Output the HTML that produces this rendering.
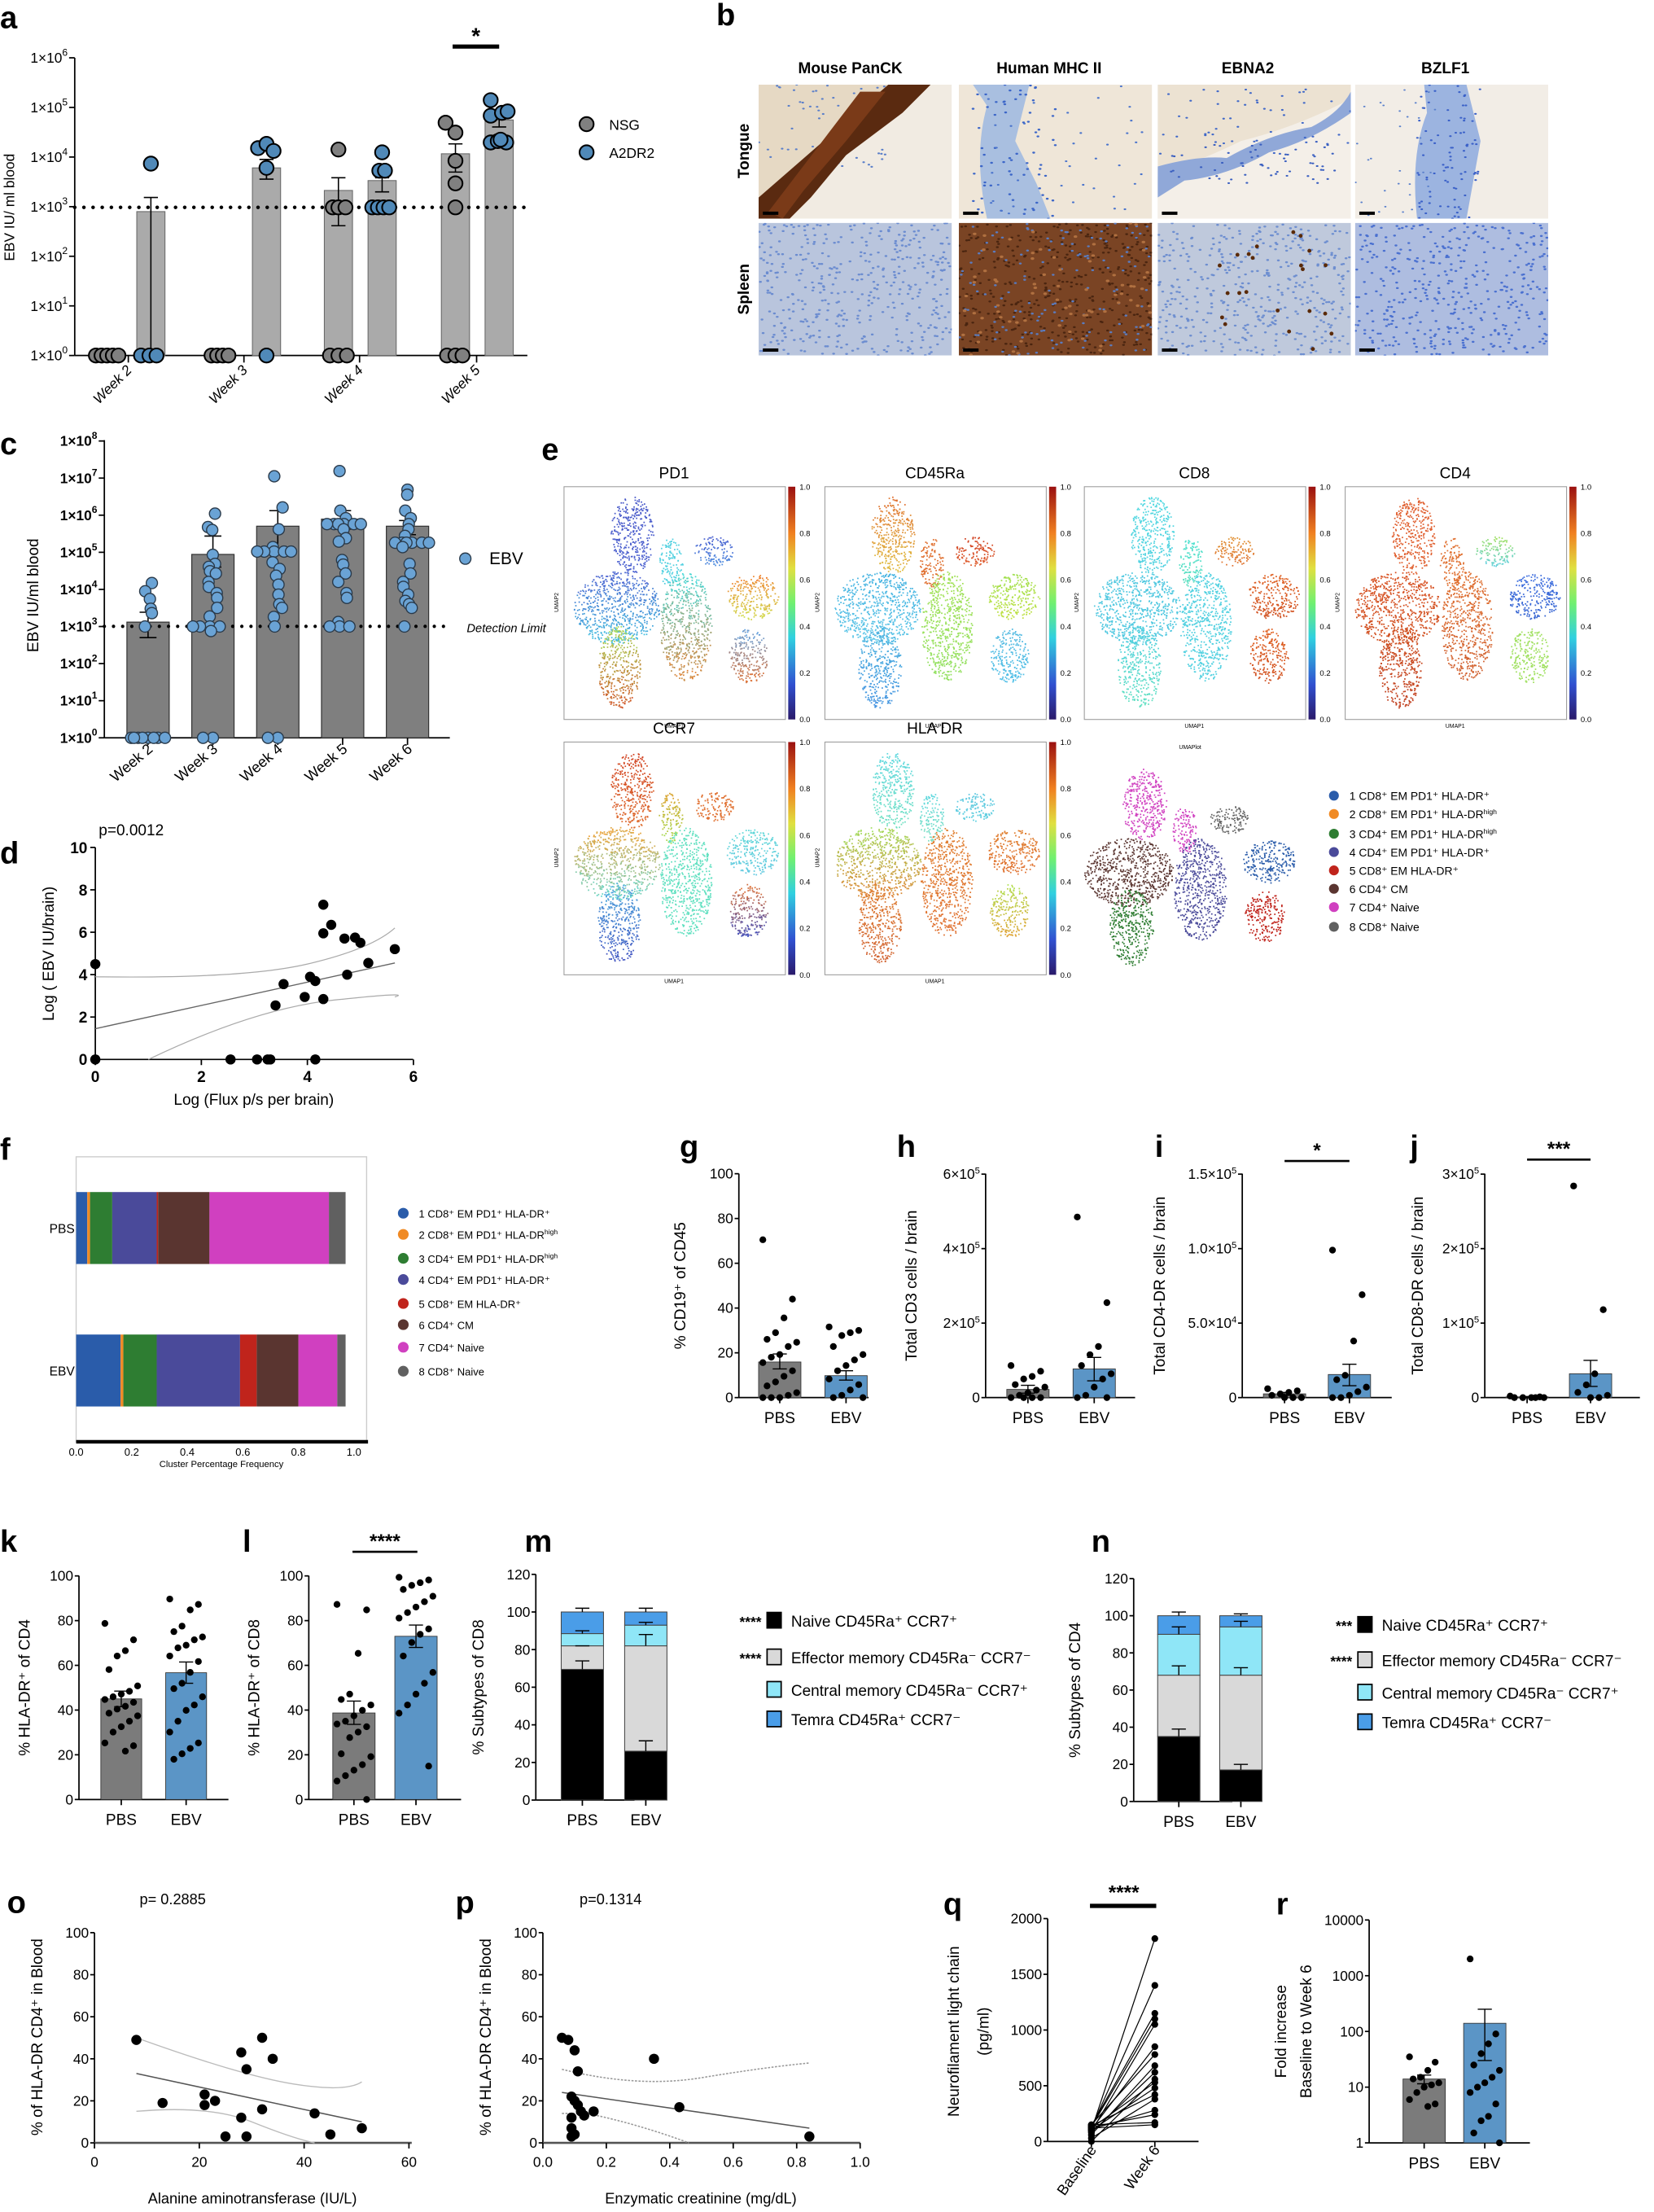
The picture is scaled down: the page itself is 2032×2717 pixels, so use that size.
<!DOCTYPE html>
<html><head><meta charset="utf-8">
<style>
html,body{margin:0;padding:0;background:#fff;}
svg{display:block;font-family:"Liberation Sans",Arial,sans-serif;}
</style></head>
<body>
<svg id="fig" xmlns="http://www.w3.org/2000/svg" width="2032" height="2717" viewBox="0 0 1173 1568" preserveAspectRatio="none">
<defs>
<linearGradient id="jet" x1="0" y1="1" x2="0" y2="0">
<stop offset="0" stop-color="#2a1a6a"/><stop offset="0.15" stop-color="#3050d0"/><stop offset="0.35" stop-color="#30d0e0"/><stop offset="0.5" stop-color="#70f070"/><stop offset="0.65" stop-color="#e0e040"/><stop offset="0.8" stop-color="#f08020"/><stop offset="1" stop-color="#9a1010"/>
</linearGradient>
</defs>
<g id="root"></g>
</svg>
<script>
(function(){
const S=[];const add=s=>S.push(s);
let seed=12345;function rnd(){seed|=0;seed=seed+0x6D2B79F5|0;let t=Math.imul(seed^seed>>>15,1|seed);t=t+Math.imul(t^t>>>7,61|t)^t;return((t^t>>>14)>>>0)/4294967296;}
function C(x,y,r,f,st,sw){add(`<circle cx="${x.toFixed(1)}" cy="${y.toFixed(1)}" r="${r}" fill="${f}" stroke="${st||'none'}" stroke-width="${sw||0}"/>`);}
function L(x1,y1,x2,y2,st,sw,ex){add(`<line x1="${x1}" y1="${y1}" x2="${x2}" y2="${y2}" stroke="${st||'#000'}" stroke-width="${sw||1}" ${ex||''}/>`);}
function R(x,y,w,h,f,st,sw){add(`<rect x="${x}" y="${y}" width="${w}" height="${h}" fill="${f}" stroke="${st||'none'}" stroke-width="${sw||0}"/>`);}
function T(x,y,s,fs,an,ex){add(`<text x="${x}" y="${y}" font-size="${fs}" text-anchor="${an||'start'}" ${ex||''}>${s}</text>`);}
function TR(x,y,s,fs,rot,an,ex){add(`<text x="${x}" y="${y}" font-size="${fs}" text-anchor="${an||'middle'}" transform="rotate(${rot} ${x} ${y})" ${ex||''}>${s}</text>`);}
function P(d,st,sw,f,ex){add(`<path d="${d}" stroke="${st||'none'}" stroke-width="${sw||0}" fill="${f||'none'}" ${ex||''}/>`);}
function err(x,y1,y2,w){L(x,y1,x,y2,'#000',0.9);L(x-w,y1,x+w,y1,'#000',0.9);}
const sup=(b,e)=>`${b}<tspan dy="-4" font-size="65%">${e}</tspan>`;
const BL='#5b95c6', GR='#7b7b7b';
// ===== Panel a =====
T(0,20,'a',22,'start','font-weight="bold"');
const yA=v=>252-v*35.17;
L(53,41,53,252,'#000',1);L(53,252,374,252,'#000',1);
for(let i=0;i<=6;i++){const y=yA(i);L(49,y,53,y,'#000',1);T(48,y+3.5,'1×10<tspan dy="-5" font-size="7">'+i+'</tspan>',10,'end');}
[[91,2],[173,3],[255,4],[338,5]].forEach(([x,w])=>{L(x,252,x,257,'#000',1);TR(x+3,263,'Week '+w,10,-45,'end','font-style="italic"');});
TR(10,147,'EBV IU/ ml blood',10,-90);
[[107,150],[189,119],[240,135],[271,128],[323,109],[354,85]].forEach(([x,t])=>R(x-10,t,20,252-t,'#aaaaaa','#666',0.6));
err(107,140,252,5);L(184,113,194,113);L(189,113,189,127);L(184,127,194,127);
[[240,126,160],[271,126,136],[323,102,122],[354,84,90]].forEach(([x,a,b])=>{L(x,a,x,b,'#000',0.9);L(x-5,a,x+5,a,'#000',0.9);L(x-5,b,x+5,b,'#000',0.9);});
L(53,147,374,147,'#000',2.6,'stroke-dasharray="0 6.5" stroke-linecap="round"');
const gN='#808080',gA='#5089b8';
[[68,252],[72,252],[76,252],[80,252],[84,252],[150,252],[154,252],[158,252],[162,252],[240,106],[236,147],[240,147],[245,147],[234,252],[240,252],[246,252],[316,87],[323,94],[323,114],[323,130],[323,147],[317,252],[323,252],[328,252]].forEach(([x,y])=>C(x,y,5,gN,'#000',1.2));
[[100,252],[106,252],[111,252],[107,116],[183,105],[189,102],[194,107],[189,119],[189,252],[271,108],[269,121],[273,121],[264,147],[268,147],[272,147],[276,147],[348,71],[348,82],[356,80],[360,79],[348,101],[353,100],[359,101],[355,99]].forEach(([x,y])=>C(x,y,5,gA,'#000',1.2));
L(321,33,354,33,'#000',3);T(337.5,31,'*',16,'middle','font-weight="bold"');
C(416,88,5,gN,'#000',1.2);T(432,92,'NSG',10);C(416,108,5,gA,'#000',1.2);T(432,112,'A2DR2',10);
// ===== Panel b =====
T(508,18,'b',22,'start','font-weight="bold"');
const cols=[[538,603,'Mouse PanCK'],[680,744,'Human MHC II'],[821,885,'EBNA2'],[961,1025,'BZLF1']];
cols.forEach(c=>T(c[1],52,c[2],11,'middle','font-weight="bold"'));
TR(531,107,'Tongue',11,-90,'middle','font-weight="bold"');TR(531,205,'Spleen',11,-90,'middle','font-weight="bold"');
function cells(x,y,w,h,n,col,sz){for(let i=0;i<n;i++){add(`<ellipse cx="${(x+rnd()*w).toFixed(1)}" cy="${(y+rnd()*h).toFixed(1)}" rx="${sz}" ry="${(sz*0.7).toFixed(2)}" fill="${col}"/>`);}}
const IW=137,T1=60,H1=95,T2=158,H2=94;
cols.forEach((c,i)=>{const x=c[0];add(`<clipPath id="cl${i}"><rect x="${x}" y="${T1}" width="${IW}" height="${H1}"/></clipPath><clipPath id="cs${i}"><rect x="${x}" y="${T2}" width="${IW}" height="${H2}"/></clipPath>`);});
add('<g clip-path="url(#cl0)">');R(538,T1,IW,H1,'#f1ebe2');
P(`M538,${T1} L640,${T1} L560,155 L538,155Z`,0,0,'#e6d9c4');cells(538,T1,90,60,60,'#5b7fc9',0.9);
P(`M538,140 L630,${T1} L660,${T1} L640,80 L600,110 L575,140 L560,155 L538,155Z`,'none',0,'#5a2a10');
P(`M545,150 L610,${T1+5} L628,${T1+5} L600,100 L570,135 L555,155Z`,'none',0,'#7a3a18');
add('</g>');
add('<g clip-path="url(#cl1)">');R(680,T1,IW,H1,'#efe6d8');
P(`M690,${T1} L730,${T1} L720,100 L735,130 L745,155 L700,155 Q690,110 700,75Z`,'none',0,'#a9bfe0');cells(690,T1,60,95,70,'#3c66c8',1);cells(700,T1,110,95,40,'#4a74cc',0.9);
add('</g>');
add('<g clip-path="url(#cl2)">');R(821,T1,IW,H1,'#ece2d2');P(`M821,125 Q860,110 880,100 Q920,90 958,70 L958,155 L821,155Z`,'none',0,'#f4efe8');
P(`M821,118 Q850,110 870,112 Q900,95 930,90 Q950,80 958,65 L958,80 Q930,100 900,108 Q870,125 840,128 L821,140Z`,'none',0,'#90a8d8');cells(821,T1,137,50,50,'#4068c8',0.9);cells(830,100,120,30,60,'#3a5fc0',0.9);
add('</g>');
add('<g clip-path="url(#cl3)">');R(961,T1,IW,H1,'#f2ede6');P(`M1010,${T1} L1040,${T1} L1050,100 L1040,155 L1005,155 Q1000,110 1012,80Z`,'none',0,'#9cb4e0');cells(1005,T1,45,95,90,'#3a60c8',0.9);cells(961,T1,60,95,30,'#5a80cc',0.8);
add('</g>');
const sp=[['#b9c5dd','#6b8cd0',0],['#7a4424','#4a2510',1],['#bfc9dc','#6d8ed0',2],['#aebde0','#4a70d0',3]];
sp.forEach((s,i)=>{const x=cols[i][0];add(`<g clip-path="url(#cs${i})">`);R(x,T2,IW,H2,s[0]);cells(x,T2,IW,H2,420,s[1],1);
 if(i==1){cells(x,T2,IW,H2,150,'#5a7cc0',1);cells(x,T2,IW,H2,80,'#b07040',1.3);}
 if(i==2){for(let k=0;k<22;k++)C(x+30+rnd()*100,T2+5+rnd()*85,1.4,'#5a2a08');}
 add('</g>');});
cols.forEach(c=>{R(c[0]+3,150,11,2.3,'#000');R(c[0]+3,247,11,2.3,'#000');});
// ===== Panel c =====
T(0,322,'c',22,'start','font-weight="bold"');
const yC=v=>523-v*26.3;
L(74,312,74,523,'#000',1);L(74,523,319,523,'#000',1);
for(let i=0;i<=8;i++){const y=yC(i);L(70,y,74,y);T(69,y+3.5,'1×10<tspan dy="-5" font-size="7">'+i+'</tspan>',10,'end','font-weight="bold"');}
TR(27,422,'EBV IU/ml blood',11,-90);
const wx=[105,151,197,243,289],bt=[441,393,373,368,373],et=[[434,452],[380,402],[362,389],[362,375],[369,379]];
wx.forEach((x,i)=>{R(x-15,bt[i],30,523-bt[i],'#7f7f7f','#333',0.7);L(x,523,x,528);TR(x+4,532,'Week '+(i+2),10.5,-40,'end');
 const e=et[i];L(x,e[0],x,e[1],'#000',0.9);L(x-6,e[0],x+6,e[0],'#000',0.9);L(x-6,e[1],x+6,e[1],'#000',0.9);});
L(74,444,319,444,'#000',2.4,'stroke-dasharray="0 6.5" stroke-linecap="round"');
T(331,448,'Detection Limit',8.5,'start','font-style="italic"');
const cd=[[0,0,0,0,0,0,0,0,4.17,3.95,3.74,3.48,3.36,3.0],
[6.04,5.68,5.6,4.93,4.69,4.61,4.49,4.43,4.2,4.07,3.9,3.77,3.5,3.27,3,3,3,3,2.88,0,0],
[7.05,6.21,5.62,5.14,5.02,5.02,5.02,5.02,5.02,4.73,4.55,4.37,4.13,3.86,3.6,3.5,3.26,3,0,0],
[7.19,6.12,5.92,5.76,5.76,5.76,5.76,5.76,5.76,5.62,5.38,5.29,4.79,4.67,4.43,4.2,3.9,3.77,3.12,3,3,3],
[6.69,6.55,6.12,5.92,5.76,5.62,5.44,5.26,5.26,5.26,5.26,5.26,5.26,5.14,4.69,4.43,4.2,4.07,3.86,3.69,3.6,3.5,3]];
const jit=[0,-7,7,-12,12,-4,4,-10,10];
cd.forEach((arr,i)=>{const cnt={};arr.forEach(v=>{const k=v.toFixed(2);cnt[k]=(cnt[k]||0);const j=jit[cnt[k]%9];cnt[k]++;const xo=(v===0)?j:(j+((v*37)%5-2.5)*1.5);C(wx[i]+xo,yC(v),4,'#6aa3d5','#2a3a4a',0.8);});});
C(330,396,4,'#6aa3d5','#2a3a4a',0.8);T(347,400,'EBV',12);
// ===== Panel d =====
T(0,612,'d',22,'start','font-weight="bold"');T(70,592,'p=0.0012',11);
const xD=v=>67.6+v*37.6,yD=v=>751-v*15.03;
L(67.6,600.7,67.6,751);L(67.6,751,293,751);
for(let i=0;i<=10;i+=2){L(64,yD(i),67.6,yD(i));T(62,yD(i)+4,i,11,'end','font-weight="bold"');}
for(let i=0;i<=6;i+=2){L(xD(i),751,xD(i),755);T(xD(i),767,i,11,'middle','font-weight="bold"');}
T(180,783,'Log (Flux p/s per brain)',11,'middle');TR(38,676,'Log ( EBV IU/brain)',11,-90);
L(xD(0),yD(1.45),xD(5.65),yD(4.55),'#666',0.8);
P(`M${xD(0)},${yD(3.9)} Q${xD(2.8)},${yD(3.8)} ${xD(4)},${yD(4.5)} T${xD(5.65)},${yD(6.2)}`,'#aaa',0.7);
P(`M${xD(1)},${yD(0)} Q${xD(3)},${yD(2.4)} ${xD(4.5)},${yD(2.8)} T${xD(5.65)},${yD(2.95)}`,'#aaa',0.7);
[[0,4.5],[0,0],[2.55,0],[3.05,0],[3.25,0],[3.3,0],[4.15,0],[3.4,2.55],[3.55,3.55],[3.95,2.95],[4.05,3.9],[4.15,3.7],[4.3,2.85],[4.3,7.3],[4.3,5.95],[4.45,6.35],[4.7,5.7],[4.75,4.0],[4.9,5.75],[5.0,5.5],[5.15,4.55],[5.65,5.2]].forEach(([a,b])=>C(xD(a),yD(b),3.6,'#000'));
// ===== Panel e =====
T(384,326,'e',22,'start','font-weight="bold"');
const shapes=[[.30,.20,.10,.17],[.23,.52,.20,.16],[.24,.78,.10,.18],[.48,.32,.055,.11],[.55,.60,.12,.24],[.68,.27,.09,.065],[.86,.47,.12,.10],[.84,.73,.09,.12]];
const pal={
PD1:[['#4858c8','#4a60d0'],['#4a60d0','#40c0e0'],['#a8e060','#d05020'],['#50d0e0','#50d0e0'],['#40d8d8','#e08030'],['#4a60d0','#5090e0'],['#f08030','#d0e050'],['#60a0e0','#e07030']],
CD45Ra:[['#e07030','#e0c040'],['#40b0e0','#60c8e8'],['#50b8e0','#4090e0'],['#e07030','#e07030'],['#a0e050','#90e060'],['#d04020','#e06030'],['#a0e050','#c0e040'],['#50b8e0','#50c0e8']],
CD8:[['#50d8e0','#50d0e0'],['#50c8e0','#50c8e0'],['#50d0e0','#60e0c0'],['#50e0d0','#60e0c0'],['#50d0e0','#50d0e0'],['#e09030','#e07030'],['#e06020','#d05020'],['#e06020','#d05020']],
CD4:[['#e06030','#e06030'],['#d85020','#d05020'],['#d05020','#c04020'],['#e07030','#e07030'],['#e07030','#d06030'],['#a0e060','#60d0e0'],['#4070e0','#3060d0'],['#a0e060','#a0e060']],
CCR7:[['#d04020','#e07030'],['#f0a030','#60d8d0'],['#50b0e0','#4050c0'],['#e0a030','#a0e050'],['#60e0c0','#60e0c0'],['#e07030','#e07030'],['#60d8d8','#60c8e0'],['#e07030','#4050c0']],
'HLA DR':[['#60d8e0','#70e0c0'],['#a0e060','#e08030'],['#e08030','#d06030'],['#60d8e0','#80e0c0'],['#e08030','#e07030'],['#60c8e0','#60d0e0'],['#e08030','#e07030'],['#b0e050','#e0a030']]};
function hx(c){return[parseInt(c.substr(1,2),16),parseInt(c.substr(3,2),16),parseInt(c.substr(5,2),16)];}
function mix(a,b,t){const A=hx(a),B=hx(b);return'rgb('+A.map((v,i)=>Math.round(v+(B[i]-v)*t)).join(',')+')';}
function umap(x,y,w,h,cl){shapes.forEach((s,i)=>{const n=Math.round(s[2]*s[3]*20000);for(let k=0;k<n;k++){const a=rnd()*6.283,r=Math.sqrt(rnd());const u=s[0]+Math.cos(a)*r*s[2],v=s[1]+Math.sin(a)*r*s[3];const t=(Math.sin(a)*r+1)/2;const col=mix(cl[i][0],cl[i][1],Math.min(1,Math.max(0,t+(rnd()-.5)*.3)));add(`<rect x="${(x+u*w).toFixed(1)}" y="${(y+v*h).toFixed(1)}" width="1" height="1" fill="${col}"/>`);}});}
const ep=[['PD1',400,345],['CD45Ra',585,345],['CD8',769,345],['CD4',954,345],['CCR7',400,526],['HLA DR',585,526]];
ep.forEach(([nm,x,y])=>{R(x,y,157,165,'none','#999',0.6);T(x+78,y-6,nm,11,'middle');umap(x+2,y+2,153,161,pal[nm]);
 R(x+159,y,5,165,'url(#jet)');for(let k=0;k<=5;k++){const ty=y+165-k*33;T(x+167,ty+2,(k/5).toFixed(1),5.5,'start');}
 T(x+78,y+171,'UMAP1',4,'middle');TR(x-4,y+82,'UMAP2',4,-90);});
T(844,531,'UMAPlot',4,'middle');
const cc=['#2a5caa','#f08a24','#2e7d32','#4a4a9a','#c0241c','#5a3530','#d040c0','#606060'];
const cl8=['#d040c0','#5a3530','#2e7d32','#d040c0','#4a4a9a','#606060','#2a5caa','#c0241c'].map(c=>[c,c]);
umap(764,540,158,150,cl8);
const lg=['1 CD8⁺ EM PD1⁺ HLA-DR⁺','2 CD8⁺ EM PD1⁺ HLA-DR<tspan dy="-3" font-size="5">high</tspan>','3 CD4⁺ EM PD1⁺ HLA-DR<tspan dy="-3" font-size="5">high</tspan>','4 CD4⁺ EM PD1⁺ HLA-DR⁺','5 CD8⁺ EM HLA-DR⁺','6 CD4⁺ CM','7 CD4⁺ Naive','8 CD8⁺ Naive'];
[564,577,591,604,617,630,643,657].forEach((y,i)=>{C(946,y,3.5,cc[i]);T(957,y+3,lg[i],8);});
// ===== Panel f =====
T(0,822,'f',22,'start','font-weight="bold"');
R(54,820,206,202,'none','#ccc',0.8);L(54,1022,261,1022,'#000',2.5);
const xF=v=>54+v*197;
const fb=[[845,[[0,.04,0],[.04,.05,1],[.05,.13,2],[.13,.29,3],[.29,.295,4],[.295,.48,5],[.48,.91,6],[.91,.97,7]]],[946,[[0,.16,0],[.16,.17,1],[.17,.29,2],[.29,.59,3],[.59,.65,4],[.65,.8,5],[.8,.94,6],[.94,.97,7]]]];
fb.forEach(([y,segs])=>segs.forEach(([a,b,c])=>R(xF(a),y,xF(b)-xF(a),51,cc[c])));
T(53,874,'PBS',9,'end');T(53,975,'EBV',9,'end');
for(let i=0;i<=5;i++){T(xF(i/5),1032,(i/5).toFixed(1),7.5,'middle');}
T(157,1040,'Cluster Percentage Frequency',6.5,'middle');
[863,878,895,910,927,942,958,975].forEach((y,i)=>{C(286,y-3,3.8,cc[i]);T(297,y,lg[i],7.5);});
function barpanel(o){L(o.ax,o.top,o.ax,o.bot);L(o.ax,o.bot,o.ax+o.w,o.bot);
 o.ticks.forEach(([v,lab])=>{const y=o.y(v);L(o.ax-3,y,o.ax,y);T(o.ax-4,y+3.5,lab,o.fs||10,'end');});
 o.bars.forEach(b=>{R(b.x-b.bw/2,o.y(b.m),b.bw,o.bot-o.y(b.m),b.c,'#333',0.5);
   b.d.forEach((v,k)=>{const j=((k*7)%9-4)*b.bw/10;C(b.x+j,o.y(v),o.r||2.4,'#000');});
   L(b.x,o.y(b.lo),b.x,o.y(b.hi),'#000',0.8);L(b.x-5,o.y(b.hi),b.x+5,o.y(b.hi),'#000',0.8);L(b.x-5,o.y(b.lo),b.x+5,o.y(b.lo),'#000',0.8);
   L(b.x,o.bot,b.x,o.bot+4);T(b.x,o.bot+18,b.n,11,'middle');});
 TR(o.lx,(o.top+o.bot)/2,o.lab,11,-90);T(o.px,o.py,o.p,22,'start','font-weight="bold"');
 if(o.star){L(o.star[0],o.star[2],o.star[1],o.star[2],'#000',1.5);T((o.star[0]+o.star[1])/2,o.star[2]-3,o.star[3],14,'middle','font-weight="bold"');}}
const gy=v=>990.7-v*1.587;
barpanel({ax:524,top:832,bot:990.7,w:92,y:gy,ticks:[[0,'0'],[20,'20'],[40,'40'],[60,'60'],[80,'80'],[100,'100']],lx:486,lab:'% CD19⁺ of CD45',px:482,py:820,p:'g',
 bars:[{x:553,bw:30,c:GR,m:15.9,lo:12.8,hi:19.5,n:'PBS',d:[70.5,44,35.6,29,26,24.7,22.8,19.2,18,15.6,12,9.5,7,5.2,2.2,1,0,0,0]},{x:600,bw:30,c:BL,m:9.8,lo:7.8,hi:12,n:'EBV',d:[31.6,30,29,27.7,22.8,19.2,16.8,14.3,12,8.3,5.8,3.4,1,0,0]}]});
const hy=v=>990.7-v/6*158.4;
barpanel({ax:699,top:832,bot:990.7,w:106,y:hy,ticks:[[0,'0'],[2,sup('2×10','5')],[4,sup('4×10','5')],[6,sup('6×10','5')]],lx:650,lab:'Total CD3 cells / brain',px:636,py:820,p:'h',
 bars:[{x:729,bw:30,c:GR,m:.22,lo:.12,hi:.33,n:'PBS',d:[.86,.71,.57,.5,.35,.28,.2,.13,.06,0,0,0,0]},{x:776,bw:30,c:BL,m:.77,lo:.45,hi:1.08,n:'EBV',d:[4.85,2.55,1.37,1.15,.86,.64,.5,.28,.06,0,0]}]});
const iy=v=>990.7-v/15*158.4;
barpanel({ax:881,top:832,bot:990.7,w:106,y:iy,ticks:[[0,'0'],[5,sup('5.0×10','4')],[10,sup('1.0×10','5')],[15,sup('1.5×10','5')]],lx:826,lab:'Total CD4-DR cells / brain',px:819,py:820,p:'i',star:[911,957,823,'*'],
 bars:[{x:911,bw:30,c:GR,m:.25,lo:.15,hi:.35,n:'PBS',d:[.6,.45,.35,.25,.15,0,0,0]},{x:957,bw:30,c:BL,m:1.55,lo:.8,hi:2.24,n:'EBV',d:[9.9,6.9,3.8,1.5,1.2,.7,.4,.15,0,0]}]});
const jy=v=>990.7-v/3*158.4;
barpanel({ax:1053,top:832,bot:990.7,w:110,y:jy,ticks:[[0,'0'],[1,sup('1×10','5')],[2,sup('2×10','5')],[3,sup('3×10','5')]],lx:1009,lab:'Total CD8-DR cells / brain',px:1000,py:820,p:'j',star:[1083,1128,822,'***'],
 bars:[{x:1083,bw:30,c:GR,m:.01,lo:.005,hi:.015,n:'PBS',d:[.02,.01,0,0,0,0,0]},{x:1128,bw:30,c:BL,m:.32,lo:.15,hi:.5,n:'EBV',d:[2.84,1.18,.32,.17,.07,.03,0,0]}]});
const ky=v=>1275.6-v*1.585;
const pct=[[0,'0'],[20,'20'],[40,'40'],[60,'60'],[80,'80'],[100,'100']];
const kv=z=>z.map(q=>(1168-q)/8.23);
barpanel({ax:56,top:1117,bot:1275.6,w:106,y:ky,ticks:pct,lx:21,lab:'% HLA-DR⁺ of CD4',px:0,py:1100,p:'k',
 bars:[{x:86,bw:29,c:GR,m:45,lo:41.5,hi:48.5,n:'PBS',d:kv([520,580,620,640,690,750,770,780,790,800,810,825,835,850,860,880,900,920,960,970,990])},{x:132,bw:29,c:BL,m:56.7,lo:52,hi:61.5,n:'EBV',d:kv([430,450,470,530,550,570,580,600,610,640,660,700,740,760,790,820,840,880,920,960,980,1000,1020])}]});
barpanel({ax:219,top:1117,bot:1275.6,w:108,y:ky,ticks:pct,lx:184,lab:'% HLA-DR⁺ of CD8',px:172,py:1100,p:'l',star:[250,296,1100,'****'],
 bars:[{x:251,bw:30,c:GR,m:38.7,lo:33.6,hi:44,n:'PBS',d:kv([450,470,630,780,800,820,840,860,880,890,900,920,940,1000,1010,1040,1060,1080,1100,1168])},{x:295,bw:30,c:BL,m:73,lo:68,hi:78,n:'EBV',d:kv([350,360,370,380,395,420,440,460,480,500,540,560,590,640,700,740,780,820,850,1045])}]});
const stc=['#000','#d9d9d9','#8fe6f7','#4a9de8'];
function stacked(o){const y=v=>o.bot-(v/120)*(o.bot-o.top);L(o.ax,o.top,o.ax,o.bot);L(o.ax,o.bot,o.ax+70,o.bot);
 for(let v=0;v<=120;v+=20){L(o.ax-3,y(v),o.ax,y(v));T(o.ax-4,y(v)+3.5,v,10,'end');}
 o.bars.forEach(b=>{let prev=0;b.v.forEach((v,i)=>{R(b.x-15,y(v),30,y(prev)-y(v),stc[i],'#444',0.6);prev=v;});
  b.e.forEach(([v,h])=>{L(b.x,y(v),b.x,y(h),'#000',0.8);L(b.x-5,y(h),b.x+5,y(h),'#000',0.8);});
  L(b.x,o.bot,b.x,o.bot+4);T(b.x,o.bot+18,b.n,11,'middle');});
 TR(o.lx,(o.top+o.bot)/2,o.lab,11,-90);T(o.px,1100,o.p,22,'start','font-weight="bold"');
 const labs=['Naive CD45Ra⁺ CCR7⁺','Effector memory CD45Ra⁻ CCR7⁻','Central memory CD45Ra⁻ CCR7⁺','Temra CD45Ra⁺ CCR7⁻'];
 o.ly.forEach((yy,i)=>{R(o.lx2,yy-6,10,11,stc[i],'#000',1);T(o.lx2+17,yy+4,labs[i],11);if(o.st[i])T(o.lx2-4,yy+4,o.st[i],10,'end','font-weight="bold"');});}
stacked({ax:380,top:1116,bot:1276,lx:343,lab:'% Subtypes of CD8',px:372,p:'m',lx2:544,ly:[1149,1175,1198,1219],st:['****','****'],
 bars:[{x:413,n:'PBS',v:[69.5,82,88.5,100],e:[[69.5,74],[82,82],[88.5,90],[100,102]]},{x:458,n:'EBV',v:[26,82,93,100],e:[[26,31.5],[82,88],[93,94.5],[100,102]]}]});
stacked({ax:804,top:1119,bot:1277,lx:766,lab:'% Subtypes of CD4',px:774,p:'n',lx2:963,ly:[1152,1177,1200,1221],st:['***','****'],
 bars:[{x:836,n:'PBS',v:[35,68,90,100],e:[[35,39],[68,73],[90,94],[100,102]]},{x:880,n:'EBV',v:[17,68,94,100],e:[[17,20],[68,72],[94,97],[100,101]]}]});
const yO=v=>1519-v*1.49;
function scat(ax,x0,xs,xt,lab,xl,pv,pl,pxl){L(ax,1370,ax,1519);L(ax,1519,x0+225,1519,'#555',1.5);
 for(let v=0;v<=100;v+=20){L(ax-3,yO(v),ax,yO(v));T(ax-4,yO(v)+3.5,v,10,'end');}
 xt.forEach(([v,s])=>{L(xs(v),1519,xs(v),1523);T(xs(v),1536,s,10,'middle');});
 T(x0+112,1562,xl,10.5,'middle');TR(ax-37,1444,lab,11,-90);T(pxl,1350,pv,10.5);T(ax-62,1356,pl,22,'start','font-weight="bold"');}
const xO=v=>67+v*3.717;
scat(67,67,xO,[[0,'0'],[20,'20'],[40,'40'],[60,'60']],'% of HLA-DR CD4⁺ in Blood','Alanine aminotransferase (IU/L)','p= 0.2885','o',99);
L(xO(8),yO(33),xO(51),yO(10),'#555',0.9);
P(`M${xO(8)},${yO(50)} Q${xO(28)},${yO(32)} ${xO(38)},${yO(28)} T${xO(51)},${yO(29)}`,'#bbb',0.8);
P(`M${xO(8)},${yO(15)} Q${xO(22)},${yO(18)} ${xO(30)},${yO(10)} T${xO(42)},${yO(0)}`,'#bbb',0.8);
[[8,49],[13,19],[21,23],[21,18],[23,20],[25,3],[28,12],[28,43],[29,35],[29,3],[32,50],[32,16],[34,40],[42,14],[45,4],[51,7]].forEach(([a,b])=>C(xO(a),yO(b),3.6,'#000'));
const xP=v=>385+v*225;
scat(385,385,xP,[[0,'0.0'],[.2,'0.2'],[.4,'0.4'],[.6,'0.6'],[.8,'0.8'],[1,'1.0']],'% of HLA-DR CD4⁺ in Blood','Enzymatic creatinine (mg/dL)','p=0.1314','p',411);
L(xP(.06),yO(24),xP(.84),yO(7),'#555',0.9);
P(`M${xP(.06)},${yO(35)} Q${xP(.3)},${yO(26)} ${xP(.5)},${yO(31)} T${xP(.84)},${yO(38)}`,'#999',0.9,'none','stroke-dasharray="1.5 1"');
P(`M${xP(.06)},${yO(14)} L${xP(.14)},${yO(14)} Q${xP(.3)},${yO(9)} ${xP(.46)},${yO(0)}`,'#999',0.9,'none','stroke-dasharray="1.5 1"');
[[.06,50],[.08,49],[.1,44],[.11,34],[.09,22],[.1,20],[.11,18],[.12,15],[.13,13],[.16,15],[.09,12],[.09,7],[.1,4],[.09,3],[.35,40],[.43,17],[.84,3]].forEach(([a,b])=>C(xP(a),yO(b),3.6,'#000'));
const yQ=v=>1518-v*0.079;
L(743,1360,743,1518);L(743,1518,850,1518);
[0,500,1000,1500,2000].forEach(v=>{L(740,yQ(v),743,yQ(v));T(739,yQ(v)+3.5,v,10,'end');});
L(774,1518,774,1522);L(819,1518,819,1522);
TR(778,1524,'Baseline',10.5,-55,'end');TR(823,1524,'Week 6',10.5,-55,'end');
TR(680,1440,'Neurofilament light chain',11,-90);TR(701,1440,'(pg/ml)',11,-90);
T(669,1357,'q',22,'start','font-weight="bold"');L(773,1351,820,1351,'#000',3);T(797,1346,'****',14,'middle','font-weight="bold"');
const w6=[1820,1400,1150,1100,1050,850,780,680,620,560,530,480,420,380,280,240,170,150],b0=[100,120,140,130,90,110,150,60,80,0,120,100,140,30,110,130,150,120];
w6.forEach((v,i)=>{L(774,yQ(b0[i]),819,yQ(v),'#000',0.7);C(774,yQ(b0[i]),2.4,'#000');C(819,yQ(v),2.4,'#000');});
const yR=v=>1519-Math.log10(v)*39.5;
L(971,1361,971,1519);L(971,1519,1085,1519);
[[1,'1'],[10,'10'],[100,'100'],[1000,'1000'],[10000,'10000']].forEach(([v,s])=>{L(968,yR(v),971,yR(v));T(967,yR(v)+3.5,s,10,'end');});
R(995,yR(14),30,1519-yR(14),GR,'#333',0.5);R(1038,yR(140),30,1519-yR(140),BL,'#333',0.5);
L(1010,yR(11.5),1010,yR(16.5),'#000',0.8);L(1005,yR(16.5),1015,yR(16.5),'#000',0.8);L(1005,yR(11.5),1015,yR(11.5),'#000',0.8);
L(1053,yR(30),1053,yR(250),'#000',0.8);L(1048,yR(250),1058,yR(250),'#000',0.8);L(1048,yR(30),1058,yR(30),'#000',0.8);
[35,28,20,15,14,12,11,10,8,6,5,4.5].forEach((v,k)=>C(1010+((k*7)%9-4)*2.6,yR(v),2.4,'#000'));
[2000,90,60,40,25,20,15,12,10,8,5,3,2.5,1.5,1].forEach((v,k)=>C(1053+((k*7)%9-4)*2.6,yR(v),2.4,'#000'));
L(1010,1519,1010,1523);L(1053,1519,1053,1523);T(1010,1537,'PBS',11,'middle');T(1053,1537,'EBV',11,'middle');
TR(912,1440,'Fold increase',11,-90);TR(930,1440,'Baseline to Week 6',11,-90);
T(905,1357,'r',22,'start','font-weight="bold"');
document.getElementById('root').innerHTML=S.join('');
})();
</script>
</body></html>
